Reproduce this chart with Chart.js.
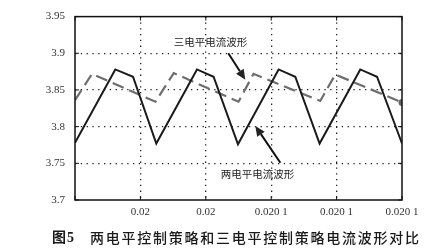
<!DOCTYPE html>
<html>
<head>
<meta charset="utf-8">
<script src="https://cdn.jsdelivr.net/npm/chart.js@4/dist/chart.umd.min.js"></script>
<style>
  html, body { margin: 0; padding: 0; background: #fff; }
  #wrap { width: 445px; height: 248px; }
</style>
</head>
<body>
<div id="wrap"><canvas id="chart" width="445" height="248"></canvas></div>
<script>
// x positions in tick units (0..5)
const xTickLabels = ['', '0.02', '0.02', '0.020 1', '0.020 1', '0.020 1'];
const yTicks = [3.7, 3.75, 3.8, 3.85, 3.9, 3.95];

const twoLevelX = [0, 0.616, 0.887, 1.243, 1.865, 2.119, 2.492, 3.113, 3.368, 3.740, 4.362, 4.618, 5.0];
const twoLevelY = [3.778, 3.878, 3.868, 3.777, 3.878, 3.868, 3.776, 3.878, 3.868, 3.777, 3.878, 3.868, 3.777];

const threeLevelX = [0, 0.26, 1.23, 1.51, 2.50, 2.73, 3.75, 3.98, 5.0];
const threeLevelY = [3.836, 3.872, 3.834, 3.873, 3.834, 3.872, 3.835, 3.871, 3.833];

const caption = '图5';
const captionText = '两电平控制策略和三电平控制策略电流波形对比';

const notes = [
  { text: '三电平电流波形', x: 2.07, y: 3.916, from: [2.344, 3.900], to: [2.604, 3.864] },
  { text: '两电平电流波形', x: 2.79, y: 3.736, from: [3.14, 3.7507], to: [2.757, 3.801] }
];

const serif = '"Liberation Serif", "Noto Sans CJK SC", serif';
const cjk = '"Noto Sans CJK SC", serif';

function toPoints(xs, ys) {
  return xs.map((x, i) => ({ x: x, y: ys[i] }));
}

function drawArrow(ctx, x1, y1, x2, y2) {
  const ang = Math.atan2(y2 - y1, x2 - x1);
  const len = 10, half = 4.5;
  const bx = x2 - len * Math.cos(ang), by = y2 - len * Math.sin(ang);
  ctx.beginPath();
  ctx.moveTo(x1, y1);
  ctx.lineTo(bx, by);
  ctx.stroke();
  ctx.beginPath();
  ctx.moveTo(x2, y2);
  ctx.lineTo(bx + half * Math.sin(ang), by - half * Math.cos(ang));
  ctx.lineTo(bx - half * Math.sin(ang), by + half * Math.cos(ang));
  ctx.closePath();
  ctx.fill();
}

const decorations = {
  id: 'decorations',
  afterDatasetsDraw(chart) {
    const { ctx, chartArea: a, scales } = chart;
    const xs = scales.x, ys = scales.y;
    ctx.save();

    // box
    ctx.strokeStyle = '#111';
    ctx.lineWidth = 1.5;
    ctx.strokeRect(a.left, a.top, a.right - a.left, a.bottom - a.top);

    // inward ticks
    ctx.lineWidth = 1;
    xs.ticks.forEach((t) => {
      const px = xs.getPixelForValue(t.value);
      ctx.beginPath();
      ctx.moveTo(px, a.bottom); ctx.lineTo(px, a.bottom - 4);
      ctx.moveTo(px, a.top); ctx.lineTo(px, a.top + 4);
      ctx.stroke();
    });
    ys.ticks.forEach((t) => {
      const py = ys.getPixelForValue(t.value);
      ctx.beginPath();
      ctx.moveTo(a.left, py); ctx.lineTo(a.left + 4, py);
      ctx.moveTo(a.right, py); ctx.lineTo(a.right - 4, py);
      ctx.stroke();
    });

    // annotations
    ctx.fillStyle = '#222';
    ctx.strokeStyle = '#111';
    ctx.lineWidth = 2;
    ctx.font = '10.5px ' + cjk;
    ctx.textAlign = 'center';
    ctx.textBaseline = 'middle';
    notes.forEach((n) => {
      ctx.fillText(n.text, xs.getPixelForValue(n.x), ys.getPixelForValue(n.y));
      drawArrow(ctx,
        xs.getPixelForValue(n.from[0]), ys.getPixelForValue(n.from[1]),
        xs.getPixelForValue(n.to[0]), ys.getPixelForValue(n.to[1]));
    });

    // caption
    ctx.fillStyle = '#1a1a1a';
    ctx.textAlign = 'left';
    ctx.font = 'bold 14px ' + serif;
    ctx.fillText('图', 52, 238);
    ctx.fillText('5', 67, 238);
    ctx.font = '500 14px ' + cjk;
    for (let i = 0; i < captionText.length; i++) {
      ctx.fillText(captionText[i], 90 + i * 15.75, 238);
    }
    ctx.restore();
  }
};

new Chart(document.getElementById('chart'), {
  type: 'line',
  data: {
    datasets: [
      {
        label: '两电平电流波形',
        data: toPoints(twoLevelX, twoLevelY),
        borderColor: '#1a1a1a',
        borderWidth: 2,
        pointRadius: 0,
        tension: 0
      },
      {
        label: '三电平电流波形',
        data: toPoints(threeLevelX, threeLevelY),
        borderColor: '#6e6e6e',
        borderWidth: 2.2,
        borderDash: [12, 6],
        pointRadius: threeLevelX.map((x, i) => (i === threeLevelX.length - 1 ? 3.5 : 0)),
        pointBackgroundColor: '#666',
        pointBorderWidth: 0,
        tension: 0
      }
    ]
  },
  options: {
    responsive: false,
    animation: false,
    layout: { padding: { left: 0, right: 43, top: 13, bottom: 28 } },
    plugins: {
      legend: { display: false },
      tooltip: { enabled: false }
    },
    scales: {
      x: {
        type: 'linear',
        min: 0,
        max: 5,
        afterFit: (s) => { s.height = 20; },
        afterBuildTicks: (s) => { s.ticks = xTickLabels.map((l, i) => ({ value: i })); },
        ticks: {
          padding: 6,
          maxRotation: 0,
          autoSkip: false,
          color: '#333',
          font: { family: serif, size: 11 },
          callback: (v) => xTickLabels[Math.round(v)]
        },
        grid: {
          drawTicks: false,
          color: (c) => (c.index === 0 || c.index === xTickLabels.length - 1 ? 'rgba(0,0,0,0)' : '#222'),
          lineWidth: 1.3
        },
        border: { display: false, dash: [1.3, 4.5] }
      },
      y: {
        min: 3.7,
        max: 3.95,
        afterFit: (s) => { s.width = 75; },
        afterBuildTicks: (s) => { s.ticks = yTicks.map((v) => ({ value: v })); },
        ticks: {
          padding: 10,
          color: '#333',
          font: { family: serif, size: 11 },
          callback: (v) => String(parseFloat(Number(v).toFixed(2)))
        },
        grid: {
          drawTicks: false,
          color: (c) => (c.index === 0 || c.index === yTicks.length - 1 ? 'rgba(0,0,0,0)' : '#222'),
          lineWidth: 1.3
        },
        border: { display: false, dash: [1.3, 4.5] }
      }
    }
  },
  plugins: [decorations]
});
</script>
</body>
</html>
